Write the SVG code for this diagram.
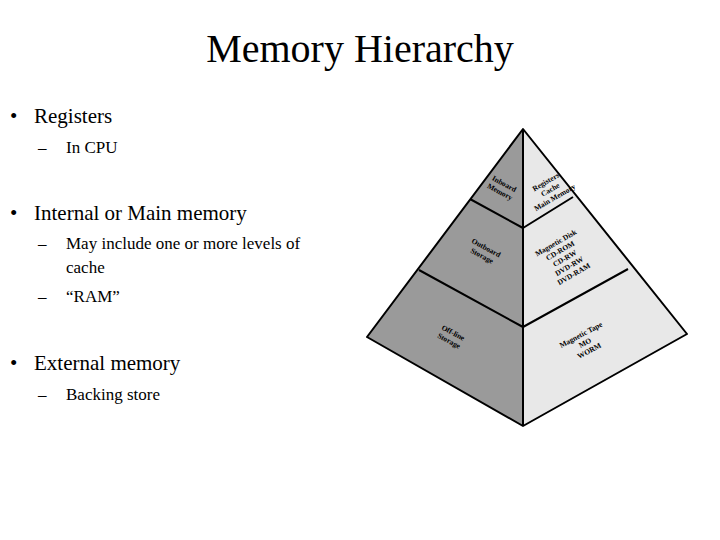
<svg xmlns="http://www.w3.org/2000/svg" width="720" height="540" viewBox="0 0 720 540">
<style>
text{font-family:"Liberation Serif",serif;fill:#000}
.b{font-size:21px}.s{font-size:17px}
.p{font-size:7.5px;font-weight:bold;text-anchor:middle}
.e{stroke:#000;stroke-width:2;stroke-linejoin:round}
</style>
<rect width="720" height="540" fill="#fff"/>
<text x="360" y="62" font-size="40" text-anchor="middle">Memory Hierarchy</text>
<g id="text">
<text class="b" x="10" y="123">•</text><text class="b" x="34" y="123">Registers</text>
<text class="s" x="38" y="153">–</text><text class="s" x="66" y="153">In CPU</text>
<text class="b" x="10" y="220">•</text><text class="b" x="34" y="220">Internal or Main memory</text>
<text class="s" x="38" y="249">–</text><text class="s" x="66" y="249">May include one or more levels of</text>
<text class="s" x="66" y="273">cache</text>
<text class="s" x="38" y="302">–</text><text class="s" x="66" y="302">“RAM”</text>
<text class="b" x="10" y="370">•</text><text class="b" x="34" y="370">External memory</text>
<text class="s" x="38" y="400">–</text><text class="s" x="66" y="400">Backing store</text>
</g>
<g id="pyramid">
<polygon points="523,129 367,337 523,426" fill="#9a9a9a"/>
<polygon points="523,129 687,334 523,426" fill="#e8e8e8"/>
<g id="connectors" fill="none" class="e">
<polygon points="523,129 367,337 523,426 687,334"/>
<line x1="523" y1="129" x2="523" y2="426"/>
<polyline points="470,199 523,228 573,197"/>
<polyline points="419,270 523,327 628,269"/>
</g>
<text class="p" transform="translate(503,186) rotate(28)"><tspan x="0" y="0">Inboard</tspan><tspan x="0" y="9">Memory</tspan></text>
<text class="p" transform="translate(547,184) rotate(-30)"><tspan x="0" y="0">Registers</tspan><tspan x="0" y="9">Cache</tspan><tspan x="0" y="18">Main Memory</tspan></text>
<text class="p" transform="translate(485,250) rotate(28)"><tspan x="0" y="0">Outboard</tspan><tspan x="0" y="9">Storage</tspan></text>
<text class="p" transform="translate(557,245) rotate(-30)"><tspan x="0" y="0">Magnetic Disk</tspan><tspan x="0" y="9">CD-ROM</tspan><tspan x="0" y="18">CD-RW</tspan><tspan x="0" y="27">DVD-RW</tspan><tspan x="0" y="36">DVD-RAM</tspan></text>
<text class="p" transform="translate(452,335) rotate(28)"><tspan x="0" y="0">Off-line</tspan><tspan x="0" y="9">Storage</tspan></text>
<text class="p" transform="translate(582,337) rotate(-28)"><tspan x="0" y="0">Magnetic Tape</tspan><tspan x="0" y="9">MO</tspan><tspan x="0" y="18">WORM</tspan></text>
</g>
</svg>
